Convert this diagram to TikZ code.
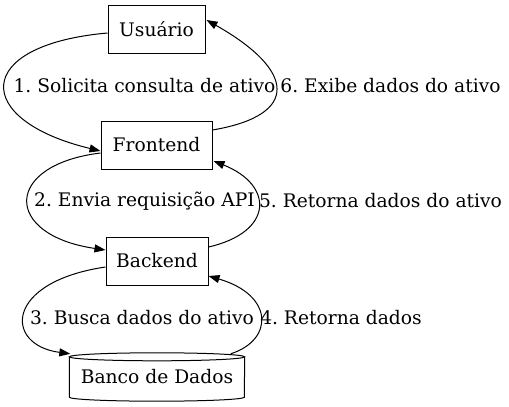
\documentclass[tikz,border=0pt]{standalone}
\usepackage{fontspec}
\setmainfont{DejaVu Serif}
\usetikzlibrary{arrows.meta}
\frenchspacing
\begin{document}
\begin{tikzpicture}[x=1pt,y=-1pt,
  every node/.style={font=\fontsize{18.67}{22}\selectfont},
  box/.style={draw,line width=1pt,inner sep=0pt,minimum height=48pt},
  lbl/.style={inner sep=0pt,anchor=center},
  edge/.style={line width=1pt,-{Triangle[length=11pt,width=8pt]}}]
\useasboundingbox (0,0) rectangle (509,407);
\node[box,minimum width=97pt] (u) at (156.5,29) {Usuário};
\node[box,minimum width=111pt] (f) at (156.5,145) {Frontend};
\node[box,minimum width=102pt] (b) at (157,261) {Backend};
\node[inner sep=0pt,minimum width=175pt,minimum height=48pt] (db) at (157,377) {\raisebox{-2pt}{Banco de Dados}};
% cylinder outline
\draw[line width=1pt] ([yshift=-4pt]db.north) ellipse [x radius=87.5pt, y radius=4pt];
\draw[line width=1pt] ([yshift=-4pt]db.north west) -- ([yshift=4pt]db.south west)
  arc[start angle=180,end angle=360,x radius=87.5pt,y radius=4pt] -- ([yshift=-4pt]db.north east);
% labels
\node[lbl] (l1) at (144.5,86) {1. Solicita consulta de ativo};
\node[lbl] (l6) at (390.5,86) {6. Exibe dados do ativo};
\node[lbl] (l2) at (144.5,201) {2. Envia requisição API};
\node[lbl] (l5) at (380.5,201) {5. Retorna dados do ativo};
\node[lbl] (l3) at (142,318) {3. Busca dados do ativo};
\node[lbl] (l4) at (341,318) {4. Retorna dados};
% edges
\draw[edge] ([yshift=-4pt]u.west) .. controls (-28,45) and (-28,120) .. ([yshift=-6pt]f.west);
\draw[edge] ([yshift=15pt]f.east) .. controls (301,115) and (295,70) .. ([xshift=1pt,yshift=9pt]u.east);
\draw[edge] ([yshift=-8pt]f.west) .. controls (3,165) and (3,235) .. ([yshift=11pt]b.west);
\draw[edge] ([yshift=14pt]b.east) .. controls (274,232) and (274,185) .. ([xshift=1pt,yshift=-16pt]f.east);
\draw[edge] ([yshift=-6pt]b.west) .. controls (4,282) and (4,345) .. ([xshift=1pt,yshift=-1pt]db.north west);
\draw[edge] ([xshift=-14pt,yshift=-1pt]db.north east) .. controls (274,340) and (274,295) .. ([yshift=-15pt]b.east);
\end{tikzpicture}
\end{document}
